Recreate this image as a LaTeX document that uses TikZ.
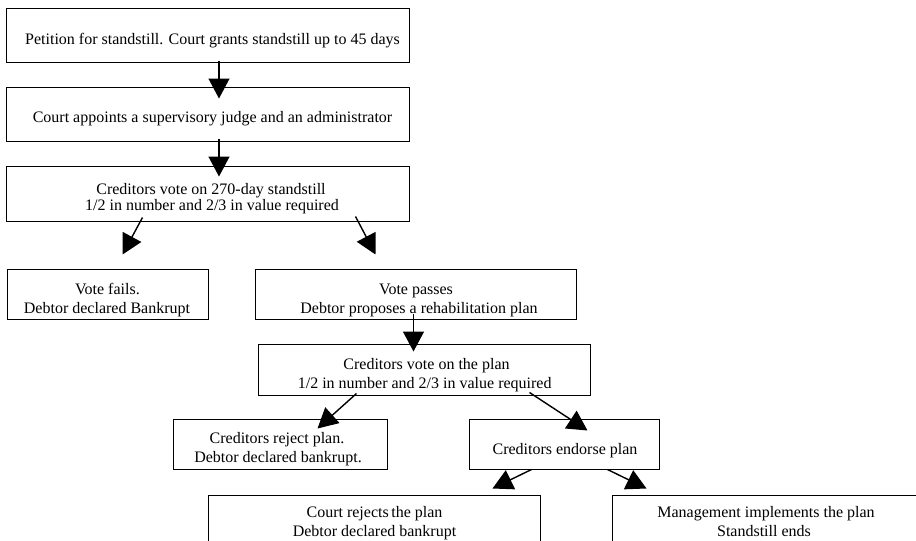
\documentclass[tikz,border=0pt]{standalone}
\usepackage{fontspec}
\setmainfont{Liberation Serif}
\usetikzlibrary{arrows.meta,calc}
\begin{document}
\begin{tikzpicture}[x=1pt,y=-1pt,
  box/.style={draw=black,line width=1pt,rectangle,inner sep=0pt},
  txt/.style={anchor=base,inner sep=0pt,font=\fontsize{16}{19}\selectfont},
  arr/.style={line width=1.4pt,-{Triangle[length=20pt,width=21pt]}}]
\useasboundingbox (0,0) rectangle (916,541);
% boxes (centre, width, height)
\node[box,minimum width=403pt,minimum height=54pt] (b1) at (207.5,35) {};
\node[box,minimum width=403pt,minimum height=54pt] (b2) at (207.5,114) {};
\node[box,minimum width=403pt,minimum height=55pt] (b3) at (207.5,193.5) {};
\node[box,minimum width=201pt,minimum height=50pt] (b4) at (107.5,294) {};
\node[box,minimum width=321pt,minimum height=50pt] (b5) at (415.5,294) {};
\node[box,minimum width=332pt,minimum height=51pt] (b6) at (424,369.5) {};
\node[box,minimum width=214pt,minimum height=50pt] (b7) at (280,444) {};
\node[box,minimum width=190pt,minimum height=50pt] (b8) at (564,444) {};
\node[box,minimum width=332pt,minimum height=65pt] (b9) at (374,527.5) {};
\node[box,minimum width=313pt,minimum height=65pt] (b10) at (768.5,527.5) {};
% texts
\node[txt] (t1) at (212.5,44.3) {Petition for standstill. Court grants standstill up to 45 days};
\node[txt] (t2) at (212.5,122.5) {Court appoints a supervisory judge and an administrator};
\node[txt] (t3a) at (211,194) {Creditors vote on 270-day standstill};
\node[txt] (t3b) at (212,210.7) {1/2 in number and 2/3 in value required};
\node[txt] (t4a) at (107.5,294) {Vote fails.};
\node[txt] (t4b) at (107,313.3) {Debtor declared Bankrupt};
\node[txt] (t5a) at (416,294) {Vote passes};
\node[txt] (t5b) at (419,313.3) {Debtor proposes a rehabilitation plan};
\node[txt] (t6a) at (426.5,369) {Creditors vote on the plan};
\node[txt] (t6b) at (424.7,388) {1/2 in number and 2/3 in value required};
\node[txt] (t7a) at (277,443.3) {Creditors reject plan.};
\node[txt] (t7b) at (278,462.3) {Debtor declared bankrupt.};
\node[txt] (t8) at (565,454) {Creditors endorse plan};
\node[txt] (t9a) at (374.5,517.3) {Court rejects\hspace{-1.5pt} the plan};
\node[txt] (t9b) at (374.5,536.7) {Debtor declared bankrupt};
\node[txt] (t10a) at (766,517.3) {Management implements the plan};
\node[txt] (t10b) at (764,536.7) {Standstill ends};
% arrows
\draw[arr] ($(b1.south west)+(213.5,-2)$) -- ($(b2.north west)+(213.5,12)$);
\draw[arr] ($(b2.south west)+(213.5,-3)$) -- ($(b3.north west)+(213.5,11)$);
\draw[arr] ($(b3.south west)+(137,-4)$) -- ($(b4.north west)+(116,-14)$);
\draw[arr] ($(b3.south west)+(350,-5)$) -- ($(b5.north west)+(121,-14)$);
\draw[arr] ($(b5.south west)+(159,-6)$) -- ($(b6.north west)+(156,8)$);
\draw[arr] ($(b6.south west)+(99,-2)$) -- ($(b7.north west)+(145,10)$);
\draw[arr] ($(b6.south west)+(272,-3)$) -- ($(b8.north west)+(119,12)$);
\draw[arr] ($(b8.south west)+(63,0)$) -- ($(b9.north west)+(285,-6)$);
\draw[arr] ($(b8.south west)+(139,0)$) -- ($(b10.north west)+(35,-6)$);
\end{tikzpicture}
\end{document}
